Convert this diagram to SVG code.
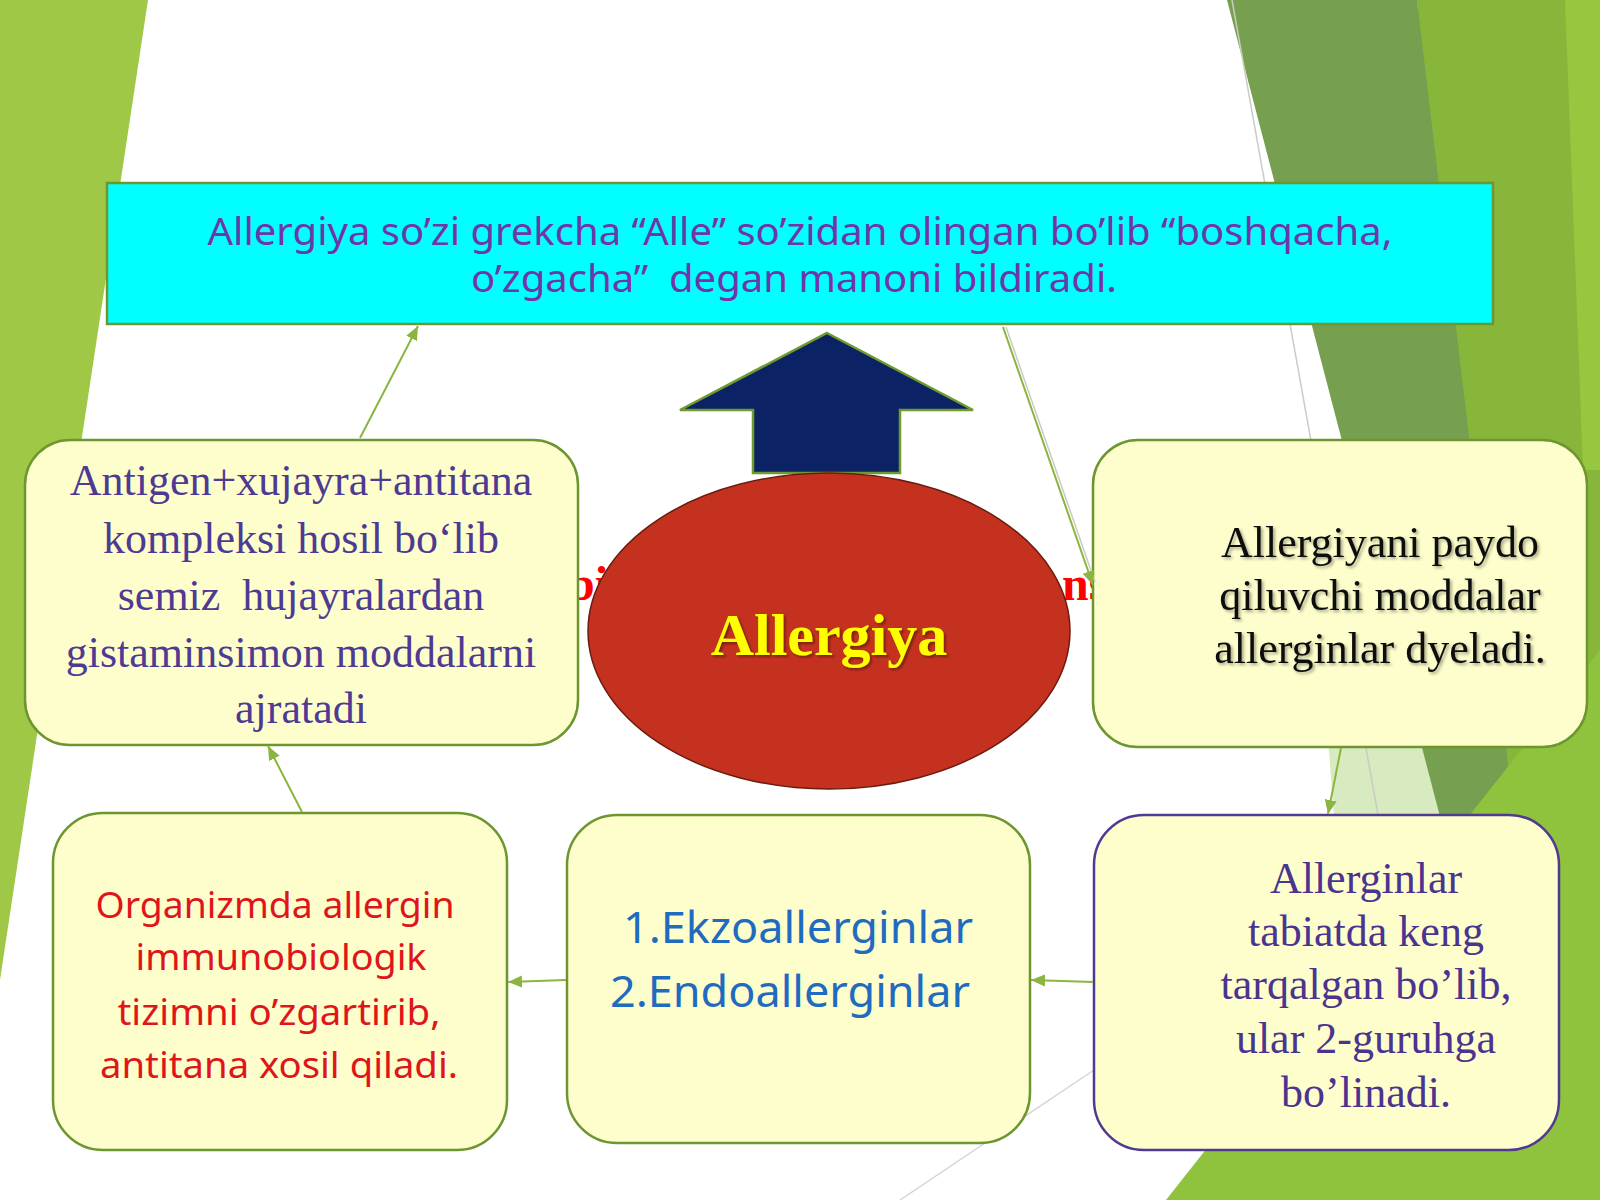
<svg xmlns="http://www.w3.org/2000/svg" width="1600" height="1200" viewBox="0 0 1600 1200">
<defs>
<style>
.box{fill:#FDFECB;stroke:#6E9630;stroke-width:2.5}
.boxp{fill:#FDFECB;stroke:#4F3A93;stroke-width:2.5}
.con{stroke:#8BB53E;stroke-width:2;fill:none}
.ser{font-family:"Liberation Serif","Times New Roman",serif;font-size:44px;text-anchor:middle}
.sans{font-family:"Noto Sans","Open Sans",sans-serif}
</style>
<marker id="ah" markerUnits="userSpaceOnUse" markerWidth="16" markerHeight="14" refX="14" refY="7" orient="auto">
<path d="M0,1 L14,7 L0,13 Z" fill="#8BB53E"/>
</marker>
<filter id="sh" x="-10%" y="-10%" width="120%" height="130%">
<feDropShadow dx="2" dy="2" stdDeviation="1.5" flood-color="#000" flood-opacity="0.35"/>
</filter>
<filter id="sh2" x="-10%" y="-10%" width="120%" height="130%">
<feDropShadow dx="2" dy="2" stdDeviation="1" flood-color="#4a1000" flood-opacity="0.6"/>
</filter>
</defs>

<g id="background">
<rect x="0" y="0" width="1600" height="1200" fill="#FFFFFF"/>
<polygon points="0,0 148,0 0,980" fill="#9FC846"/>
<polygon points="1325,700 1480,700 1480,830 1335,830" fill="#D8EABF"/>
<polygon points="1417,0 1600,0 1600,1200 1500,1200" fill="#88B63B"/>
<polygon points="1565,0 1600,0 1600,470 1583,470" fill="#96C73F"/>
<polygon points="1227,0 1417,0 1560,1200 1540,1200" fill="#76A04F"/>
<polygon points="1166,1200 1600,650 1600,1200" fill="#8FC23D"/>
<line x1="1232" y1="0" x2="1378" y2="815" stroke="#C9CCC4" stroke-width="1.5"/>
<line x1="900" y1="1200" x2="1094" y2="1070" stroke="#D6D6D6" stroke-width="1.5"/>
</g>

<g id="hidden-text" font-family="Liberation Serif, Times New Roman, serif" font-weight="bold" font-size="48" fill="#FF0000">
<text x="568" y="600">bi</text>
<text x="1062" y="600">ns</text>
</g>

<g id="n-top">
<rect x="107" y="183" width="1386" height="141" fill="#00FFFF" stroke="#6E9630" stroke-width="2.5"/>
<text class="sans" x="800" y="245" font-size="38" fill="#6E36A8" text-anchor="middle" textLength="1185" lengthAdjust="spacingAndGlyphs">Allergiya so’zi grekcha “Alle” so’zidan olingan bo’lib “boshqacha,</text>
<text class="sans" x="794" y="292" font-size="38" fill="#6E36A8" text-anchor="middle" textLength="646" lengthAdjust="spacingAndGlyphs" xml:space="preserve">o’zgacha”  degan manoni bildiradi.</text>
</g>

<g id="n-arrow">
<polygon points="827,333 973,410 900,410 900,473 753,473 753,410 680,410" fill="#0B2264" stroke="#6E9A2E" stroke-width="2.5" stroke-linejoin="miter"/>
</g>

<g id="n-left-top">
<rect class="box" x="25" y="440" width="553" height="305" rx="45" ry="45"/>
<g class="ser" fill="#4E3A92">
<text x="301" y="495">Antigen+xujayra+antitana</text>
<text x="301" y="553">kompleksi hosil bo‘lib</text>
<text x="301" y="610" xml:space="preserve">semiz  hujayralardan</text>
<text x="301" y="667">gistaminsimon moddalarni</text>
<text x="301" y="723">ajratadi</text>
</g>
</g>

<g id="n-center">
<ellipse cx="829" cy="631" rx="241" ry="158" fill="#C4321F" stroke="#6A1C10" stroke-width="1.5"/>
<text x="829" y="655" font-family="Liberation Serif, Times New Roman, serif" font-weight="bold" font-size="60" fill="#FFFF00" text-anchor="middle" filter="url(#sh2)">Allergiya</text>
</g>

<g id="n-right-top">
<rect class="box" x="1093" y="440" width="494" height="307" rx="45" ry="45"/>
<g class="ser" fill="#111111" filter="url(#sh)">
<text x="1380" y="557">Allergiyani paydo</text>
<text x="1380" y="610">qiluvchi moddalar</text>
<text x="1380" y="663">allerginlar dyeladi.</text>
</g>
</g>

<g id="n-right-bottom">
<rect class="boxp" x="1094" y="815" width="465" height="335" rx="50" ry="50"/>
<g class="ser" fill="#4B3390">
<text x="1366" y="893">Allerginlar</text>
<text x="1366" y="946">tabiatda keng</text>
<text x="1366" y="999">tarqalgan bo’lib,</text>
<text x="1366" y="1053">ular 2-guruhga</text>
<text x="1366" y="1107">bo’linadi.</text>
</g>
</g>

<g id="n-middle">
<rect class="box" x="567" y="815" width="463" height="328" rx="50" ry="50"/>
<text class="sans" x="623" y="943" font-size="44" fill="#1F6BC0" textLength="350" lengthAdjust="spacingAndGlyphs">1.Ekzoallerginlar</text>
<text class="sans" x="610" y="1007" font-size="44" fill="#1F6BC0" textLength="360" lengthAdjust="spacingAndGlyphs">2.Endoallerginlar</text>
</g>

<g id="n-left-bottom">
<rect class="box" x="53" y="813" width="454" height="337" rx="50" ry="50"/>
<g class="sans" font-size="36" fill="#E0151B" text-anchor="middle">
<text x="275" y="918" textLength="359" lengthAdjust="spacingAndGlyphs">Organizmda allergin</text>
<text x="281" y="970" textLength="291" lengthAdjust="spacingAndGlyphs">immunobiologik</text>
<text x="279" y="1025" textLength="323" lengthAdjust="spacingAndGlyphs">tizimni o’zgartirib,</text>
<text x="279" y="1078" textLength="358" lengthAdjust="spacingAndGlyphs">antitana xosil qiladi.</text>
</g>
</g>

<g id="connectors">
<line class="con" x1="360" y1="438" x2="418" y2="326" marker-end="url(#ah)"/>
<line x1="1006" y1="327" x2="1095" y2="582" stroke="#C8CCC0" stroke-width="1.5"/>
<line class="con" x1="1003" y1="327" x2="1093" y2="585" marker-end="url(#ah)"/>
<line class="con" x1="1341" y1="748" x2="1328" y2="814" marker-end="url(#ah)"/>
<line class="con" x1="1093" y1="982" x2="1031" y2="980" marker-end="url(#ah)"/>
<line class="con" x1="566" y1="980" x2="508" y2="982" marker-end="url(#ah)"/>
<line class="con" x1="302" y1="812" x2="268" y2="746" marker-end="url(#ah)"/>
</g>
</svg>
